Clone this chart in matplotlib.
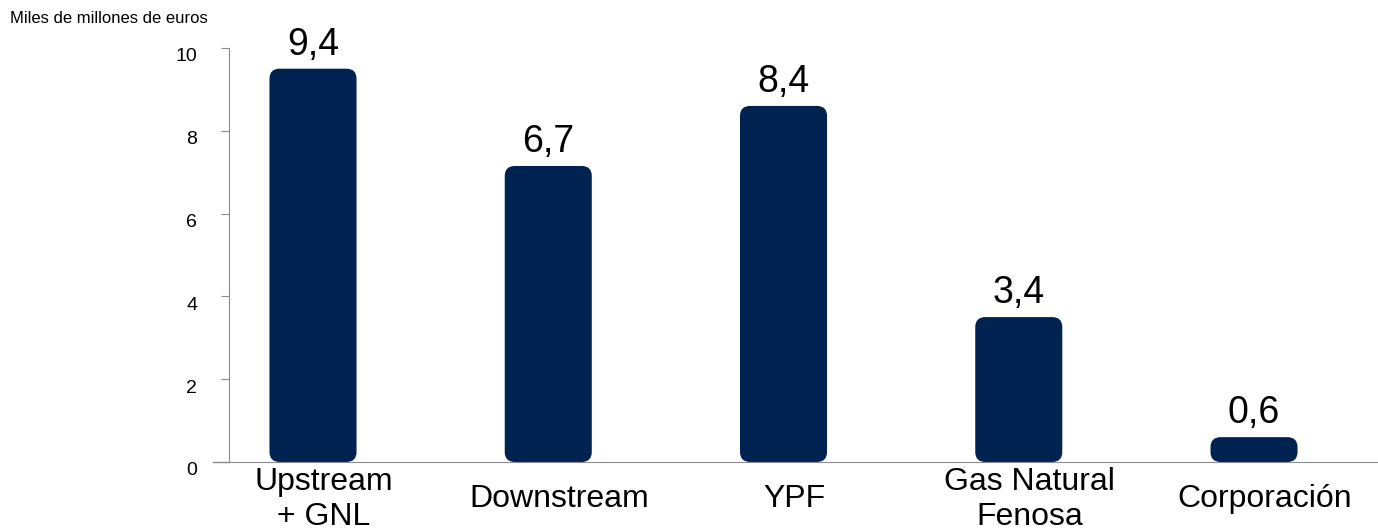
import matplotlib.pyplot as plt
from matplotlib.patches import FancyBboxPatch
from matplotlib.transforms import ScaledTranslation

plt.rcParams['font.family'] = ['Liberation Sans', 'DejaVu Sans']

# Datos
categorias = ["Upstream\n+ GNL", "Downstream", "YPF", "Gas Natural\nFenosa", "Corporación"]
alturas = [9.5, 7.15, 8.6, 3.5, 0.6]
etiquetas = ["9,4", "6,7", "8,4", "3,4", "0,6"]
ticks_y = [0, 2, 4, 6, 8, 10]

color_barra = "#002251"
gris = "#8c8c8c"

fig = plt.figure(figsize=(13.78, 5.32), dpi=100)
ax = fig.add_axes([0.1662, 0.1316, 0.8338, 0.7782])

x = list(range(len(categorias)))
ancho = 0.37
barras = ax.bar(x, alturas, width=ancho, color=color_barra)

# Barras con esquinas redondeadas
r = 0.043
for b in barras:
    b.set_visible(False)
    p = FancyBboxPatch((b.get_x(), b.get_y()), b.get_width(), b.get_height(),
                       boxstyle=f"round,pad=0,rounding_size={r}",
                       mutation_aspect=5.6, facecolor=color_barra,
                       edgecolor="none")
    ax.add_patch(p)

for xi, h, t in zip(x, alturas, etiquetas):
    ax.annotate(t, (xi, h), xytext=(0, 10), textcoords="offset points",
                ha="center", va="baseline", fontsize=27)

ax.set_xlim(-0.357, 4.527)
ax.set_ylim(0, 10)
ax.set_yticks(ticks_y)
ax.set_yticklabels([str(v) for v in ticks_y], fontsize=14)
ax.set_xticks(x)
ax.set_xticklabels(categorias, fontsize=23, va="center")
ax.tick_params(axis="x", length=0, pad=27)
ax.tick_params(axis="y", length=6, color=gris, pad=17)

# pequeños desplazamientos de las etiquetas como en el original
bajar = ScaledTranslation(0, -5 / 72, fig.dpi_scale_trans)
for lbl in ax.get_yticklabels():
    lbl.set_transform(lbl.get_transform() + bajar)
derecha = ScaledTranslation(8 / 72, 0, fig.dpi_scale_trans)
for lbl in ax.get_xticklabels():
    lbl.set_transform(lbl.get_transform() + derecha)

for s in ["top", "right"]:
    ax.spines[s].set_visible(False)
ax.spines["left"].set_color(gris)
ax.spines["bottom"].set_color(gris)
ax.axhline(0, xmin=-0.014, xmax=0, color=gris, lw=1, clip_on=False)

fig.text(0.007, 0.965, "Miles de millones de euros", fontsize=12, va="center")

fig.savefig("out.png", dpi=100)
